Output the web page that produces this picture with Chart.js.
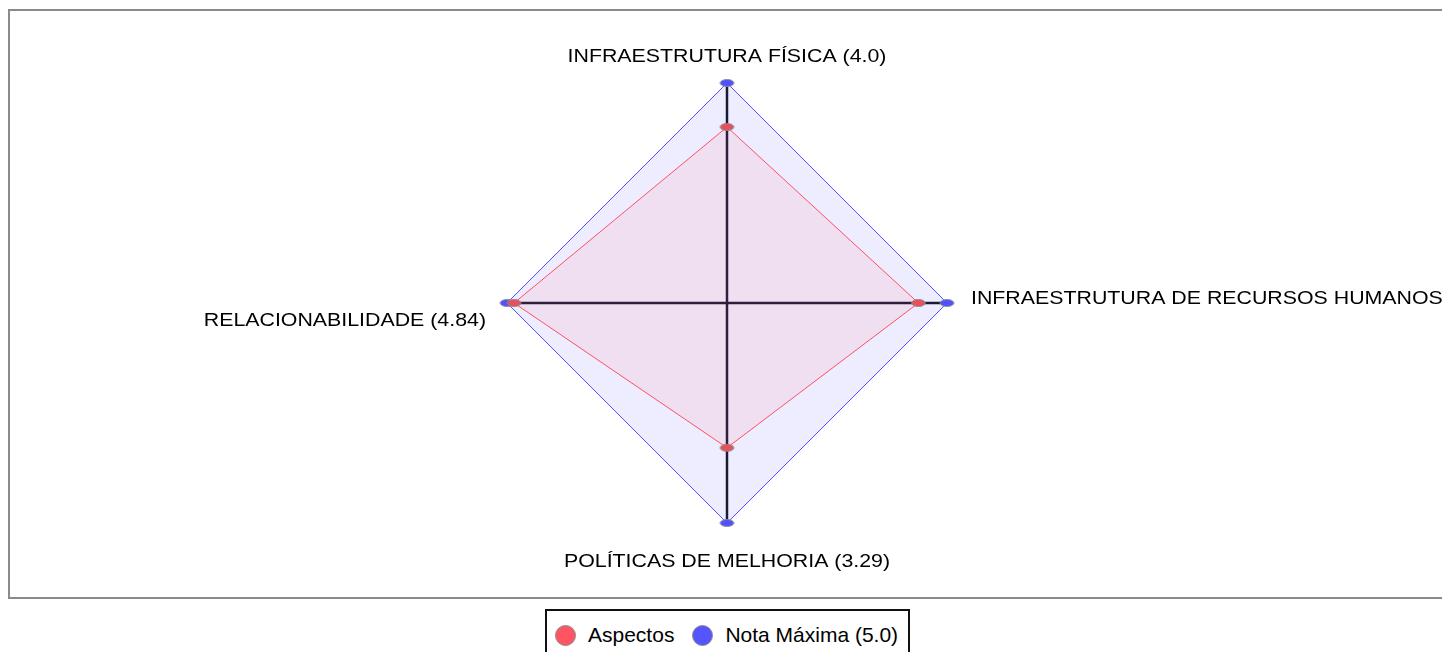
<!DOCTYPE html>
<html>
<head>
<meta charset="utf-8">
<script src="https://cdn.jsdelivr.net/npm/chart.js@4.4.1/dist/chart.umd.min.js"></script>
<style>
    html, body { margin: 0; padding: 0; background: #fff; overflow: hidden; }
    body { width: 1442px; height: 652px; position: relative; font-family: Arial, "Liberation Sans", sans-serif; }
    #frame { position: absolute; left: 8px; top: 9px; width: 1460px; height: 586px; border: 2px solid #8a8a8a; }
    #c { position: absolute; left: 0; top: 0; }
    #legend { position: absolute; left: 545px; top: 609px; height: 60px; border: 2px solid #111; box-sizing: border-box;
        display: flex; align-items: flex-start; padding: 12px 10px 0 8px; font-size: 21px; color: #000; }
    .item { display: flex; align-items: center; height: 24px; margin-right: 18px; }
    .item:last-child { margin-right: 0; }
    .dot { width: 19px; height: 19px; border-radius: 50%; border: 1.5px solid #8c8c8c; margin-right: 12px; }
</style>
</head>
<body>
<div id="frame"></div>
<canvas id="c" width="1442" height="600"></canvas>
<div id="legend"></div>
<script>
const categories = ['INFRAESTRUTURA FÍSICA (4.0)', 'INFRAESTRUTURA DE RECURSOS HUMANOS (4.35)', 'POLÍTICAS DE MELHORIA (3.29)', 'RELACIONABILIDADE (4.84)'];
const aspectos = [4.0, 4.35, 3.29, 4.84];
const notaMaxima = [5, 5, 5, 5];
const seriesNames = ['Aspectos', 'Nota Máxima (5.0)'];

// small ellipse markers like the original
function ellipse(fill) {
    const c = document.createElement('canvas');
    c.width = 17; c.height = 10;
    const x = c.getContext('2d');
    x.beginPath();
    x.ellipse(8.5, 5, 6.8, 3.5, 0, 0, Math.PI * 2);
    x.fillStyle = fill;
    x.fill();
    x.strokeStyle = '#8c8c8c';
    x.lineWidth = 1;
    x.stroke();
    return c;
}

// label offsets: top, right, bottom, left
const labelOffsets = [[0, -26, 'center'], [24, -4, 'left'], [0, 39, 'center'], [-21, 18, 'right']];

// axis labels look a bit stretched sideways in the original
const axisLabels = {
    id: 'axisLabels',
    afterDraw(chart) {
        const r = chart.scales.r;
        const ctx = chart.ctx;
        categories.forEach((t, i) => {
            const p = r.getPointPosition(i, r.drawingArea);
            const [dx, dy, align] = labelOffsets[i];
            ctx.save();
            ctx.font = '19px Arial, "Liberation Sans", sans-serif';
            ctx.fillStyle = '#000';
            ctx.textBaseline = 'middle';
            ctx.textAlign = align;
            ctx.translate(p.x + dx, p.y + dy);
            ctx.scale(1.123, 1);
            ctx.fillText(t, 0, 0);
            ctx.restore();
        });
    },
};

const colors = ['#ff5563', '#5555ff'];

new Chart(document.getElementById('c'), {
    type: 'radar',
    data: {
        labels: categories,
        datasets: [
            { label: seriesNames[0], data: aspectos, borderColor: '#ff5060', backgroundColor: 'rgba(255, 80, 96, .09)', fill: true, borderWidth: 1, pointStyle: ellipse('#e8505e') },
            { label: seriesNames[1], data: notaMaxima, borderColor: '#5050ff', backgroundColor: 'rgba(80, 80, 255, .1)', fill: true, borderWidth: 1, pointStyle: ellipse('#5050ff') },
        ],
    },
    options: {
        responsive: false,
        animation: false,
        layout: { padding: { left: 12, right: 0, top: 83, bottom: 77 } },
        plugins: { legend: { display: false }, tooltip: { enabled: false } },
        elements: { line: { tension: 0 } },
        scales: {
            r: {
                min: 0,
                max: 5,
                ticks: { display: false },
                grid: { display: false },
                pointLabels: { display: false },
                angleLines: { color: '#15151f', lineWidth: 2.5 },
            },
        },
    },
    plugins: [axisLabels],
});

const legend = document.getElementById('legend');
seriesNames.forEach((name, i) => {
    const item = document.createElement('div');
    item.className = 'item';
    item.innerHTML = '<span class="dot" style="background:' + colors[i] + '"></span><span>' + name + '</span>';
    legend.appendChild(item);
});
</script>
</body>
</html>
